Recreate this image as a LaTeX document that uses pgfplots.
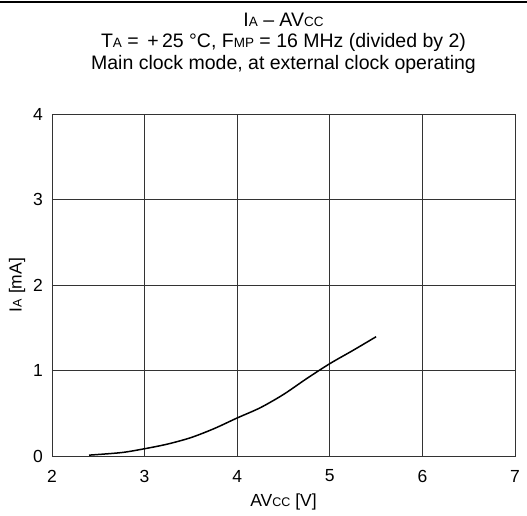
\documentclass[border=0pt]{standalone}
\usepackage{fontspec}
\setmainfont{Liberation Sans}
\usepackage{pgfplots}
\pgfplotsset{compat=1.18}
\newcommand\sub[1]{{\fontsize{12.5bp}{12.5bp}\selectfont #1}}
\newcommand\subt[1]{{\fontsize{13.5bp}{13.5bp}\selectfont #1}}
\begin{document}
\begin{tikzpicture}
\path[use as bounding box] (-52bp,-60bp) rectangle (475bp,456bp);
\draw[line width=1.3bp] (-52bp,454bp) -- (475bp,454bp);
\begin{axis}[
  at={(0,0)}, anchor=south west,
  scale only axis, width=463bp, height=342bp,
  xmin=2, xmax=7, ymin=0, ymax=4,
  xtick={2,3,4,5,6,7}, ytick={0,1,2,3,4},
  grid=major, major grid style={black!80, line width=0.8bp},
  axis line style={black!80, line width=0.8bp},
  tick style={draw=none},
  /pgf/number format/assume math mode=true,
  ticklabel style={font=\fontsize{17.5bp}{17.5bp}\selectfont},
  xticklabel style={anchor=center, yshift=-20bp},
  yticklabel style={anchor=east, inner sep=0pt, xshift=-9bp},
  label style={font=\fontsize{17.5bp}{17.5bp}\selectfont},
  xlabel={AV\sub{CC} [V]},
  ylabel={I\sub{A} [mA]},
  xlabel style={at={(axis description cs:0.5,-0.1345)}, anchor=center},
  ylabel style={at={(axis description cs:-0.0756,0.5)}, anchor=center},
  title style={align=center, font=\fontsize{19.5bp}{21.5bp}\selectfont, at={(axis description cs:0.5,1)}, anchor=center, yshift=65bp},
  title={I\subt{A} -- AV\subt{CC}\\T\subt{A} = \,+\,25 °C, F\subt{MP} = 16 MHz (divided by 2)\\Main clock mode, at external clock operating},
]
\addplot[black, line width=1.5bp, smooth, tension=0.5] coordinates {
 (2.4,0.01) (2.75,0.04) (3.0,0.085) (3.25,0.14) (3.5,0.215) (3.75,0.32) (4.0,0.445)
 (4.25,0.565) (4.5,0.72) (4.75,0.905) (5.0,1.08) (5.25,1.235) (5.5,1.395)
};
\end{axis}
\end{tikzpicture}
\end{document}
